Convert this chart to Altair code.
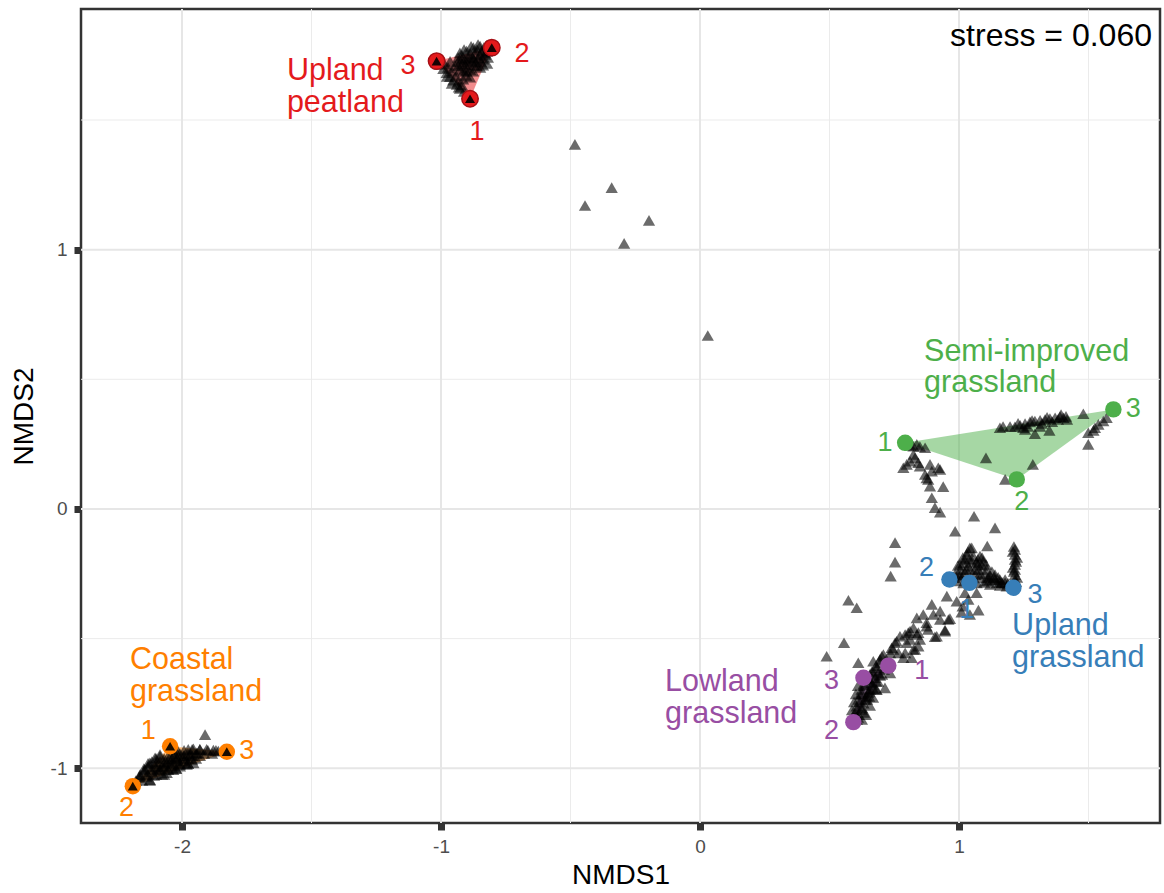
import altair as alt
import pandas as pd

FONT = "Liberation Sans"

# Habitat groups and their colours
groups = ["Upland peatland", "Semi-improved grassland", "Upland grassland",
          "Lowland grassland", "Coastal grassland"]
colours = ["#E41A1C", "#4DAF4A", "#377EB8", "#984EA3", "#FF7F00"]

# Site scores (three sites per habitat)
site_group = ["Upland peatland"] * 3 + ["Semi-improved grassland"] * 3 + \
             ["Upland grassland"] * 3 + ["Lowland grassland"] * 3 + ["Coastal grassland"] * 3
site_id = ["1", "2", "3"] * 5
site_x = [-0.888, -0.804, -1.017,
          0.792, 1.223, 1.596,
          1.040, 0.963, 1.210,
          0.727, 0.592, 0.631,
          -2.046, -2.190, -1.827]
site_y = [1.582, 1.779, 1.727,
          0.255, 0.114, 0.384,
          -0.285, -0.272, -0.304,
          -0.604, -0.822, -0.651,
          -0.915, -1.069, -0.936]

# Where the site numbers are written
num_x = [-0.861, -0.687, -1.127,
         0.714, 1.242, 1.673,
         1.030, 0.875, 1.293,
         0.856, 0.508, 0.508,
         -2.130, -2.214, -1.750]
num_y = [1.452, 1.753, 1.708,
         0.256, 0.025, 0.384,
         -0.388, -0.227, -0.330,
         -0.626, -0.857, -0.664,
         -0.857, -1.152, -0.934]

# Habitat name labels (anchored at the first line)
label_text = ["Upland\npeatland", "Semi-improved\ngrassland", "Upland\ngrassland",
              "Lowland\ngrassland", "Coastal\ngrassland"]
label_x = [-1.595, 0.865, 1.205, -0.135, -2.201]
label_y = [1.687, 0.607, -0.453, -0.669, -0.584]

# Species / sample scores
peat_x = [-1.004, -0.991, -0.978, -0.965, -0.953, -0.939, -0.927,
          -0.927, -0.901, -0.875, -0.849, -0.824, -0.920, -0.895, -0.869, -0.843,
          -0.933, -0.907, -0.881, -0.856, -0.830, -0.914, -0.888, -0.862, -0.837,
          -0.934, -0.919, -0.888, -0.861, -0.834, -0.811, -0.919, -0.896, -0.873, -0.849,
          -0.822, -0.927, -0.900, -0.873, -0.846, -0.819, -0.903, -0.876, -0.849, -0.822,
          -0.988, -0.973, -0.958, -0.942, -0.934, -0.919, -0.911,
          -0.911, -0.884, -0.857, -0.934, -0.907, -0.880, -0.830, -0.903, -0.865, -0.838,
          -0.888, -0.915, -0.946, -0.965, -0.977, -0.958, -0.931]
peat_y = [1.714, 1.698, 1.682, 1.667, 1.653, 1.637, 1.622,
          1.759, 1.766, 1.779, 1.785, 1.788, 1.734, 1.740, 1.753, 1.766,
          1.708, 1.714, 1.727, 1.740, 1.759, 1.688, 1.695, 1.708, 1.734,
          1.741, 1.749, 1.757, 1.772, 1.780, 1.784, 1.718, 1.726, 1.734, 1.749,
          1.764, 1.695, 1.703, 1.711, 1.726, 1.741, 1.672, 1.688, 1.703, 1.718,
          1.718, 1.703, 1.688, 1.672, 1.649, 1.634, 1.610,
          1.772, 1.784, 1.791, 1.726, 1.734, 1.743, 1.753, 1.688, 1.722, 1.711,
          1.665, 1.657, 1.711, 1.726, 1.668, 1.641, 1.626]

mid_x = [-0.483, -0.341, -0.444, -0.197, -0.293, 0.030]
mid_y = [1.406, 1.239, 1.170, 1.113, 1.024, 0.669]

semi_x = [1.158, 1.216, 1.236, 1.255, 1.274, 1.293, 1.313, 1.332, 1.351, 1.371, 1.390, 1.403,
          1.248, 1.293, 1.349, 1.480, 1.499, 1.525, 1.538, 1.519, 1.499, 1.570, 1.557,
          1.104, 1.285, 1.178, 0.869, 0.837, 0.824,
          0.785, 0.811, 0.830, 0.849, 0.888, 0.920, 0.869, 0.881, 0.888, 0.939,
          0.824, 0.843, 0.798, 0.895, 0.895, 0.907, 0.927, 1.058, 0.985, 1.139,
          0.927, 0.875,
          1.197, 1.266, 1.320, 1.359, 1.382, 1.413, 0.849, 0.811,
          1.170, 1.228, 1.282, 1.340, 1.394, 1.417, 1.255, 1.313]
semi_y = [0.313, 0.317, 0.323, 0.329, 0.336, 0.339, 0.342, 0.345, 0.349, 0.352, 0.356, 0.352,
          0.313, 0.290, 0.303, 0.367, 0.294, 0.313, 0.326, 0.303, 0.249, 0.352, 0.339,
          0.197, 0.172, 0.114, 0.236, 0.249, 0.242,
          0.159, 0.184, 0.197, 0.165, 0.172, 0.159, 0.133, 0.114, 0.088, 0.086,
          0.210, 0.178, 0.172, 0.146, 0.043, 0.005, -0.012, -0.028, -0.086, -0.073,
          0.152, 0.120,
          0.318, 0.318, 0.330, 0.337, 0.345, 0.357, 0.241, 0.245,
          0.318, 0.330, 0.341, 0.353, 0.364, 0.345, 0.307, 0.318]

upland_x = [0.753, 0.753, 0.736, 0.573, 0.605, 1.049, 1.109,
            1.004, 1.017, 1.030, 1.042, 1.023, 1.036, 1.055, 0.997,
            1.068, 1.081, 1.094, 1.107, 1.075, 1.062, 1.120, 1.139, 1.158, 1.178,
            1.146, 1.107, 1.081,
            1.216, 1.216, 1.216, 1.216, 1.216, 1.216, 1.216,
            0.991, 1.017, 1.068, 1.120, 1.158, 1.184,
            0.985, 1.004, 1.023, 1.035, 1.012, 1.042, 1.050,
            1.073, 1.089, 1.100, 1.120, 1.062, 1.139, 1.158, 1.178, 1.127, 1.189,
            1.208, 1.224, 1.208, 1.224, 1.216,
            0.996, 1.015, 1.004, 1.027, 1.039, 0.977,
            1.073, 1.089, 1.104, 1.081, 1.112, 1.135, 1.166, 1.151, 1.097, 1.042,
            1.212, 1.220, 1.212, 1.220]
upland_y = [-0.130, -0.205, -0.259, -0.352, -0.381, -0.150, -0.143,
            -0.233, -0.207, -0.175, -0.150, -0.246, -0.221, -0.182, -0.253,
            -0.207, -0.182, -0.201, -0.233, -0.233, -0.253, -0.259, -0.253, -0.272, -0.285,
            -0.285, -0.278, -0.265,
            -0.156, -0.175, -0.195, -0.214, -0.233, -0.253, -0.272,
            -0.278, -0.285, -0.285, -0.291, -0.295, -0.298,
            -0.252, -0.214, -0.194, -0.164, -0.264, -0.233, -0.202,
            -0.194, -0.218, -0.252, -0.272, -0.233, -0.272, -0.283, -0.272, -0.241, -0.287,
            -0.164, -0.187, -0.226, -0.264, -0.291,
            -0.218, -0.187, -0.256, -0.233, -0.194, -0.264,
            -0.214, -0.187, -0.214, -0.249, -0.264, -0.264, -0.283, -0.264, -0.283, -0.283,
            -0.145, -0.202, -0.241, -0.280]

slope_x = [0.953, 0.991, 1.014, 1.023, 1.068, 1.075, 1.010, 0.895, 0.927, 0.965,
           0.862, 0.837, 0.901, 0.946, 0.907, 0.875, 0.824, 0.804, 0.772, 0.759,
           0.837, 0.798, 0.746, 0.792, 0.708, 0.824, 0.849,
           1.042, 1.036, 0.959, 0.927, 0.875, 0.811, 0.843, 0.881, 0.914, 0.946,
           0.792, 0.753, 0.740, 0.734, 0.811, 0.766, 0.830, 0.843, 0.817, 0.785,
           0.695, 0.734, 0.714, 0.682, 0.669, 0.611, 0.556, 0.489]
slope_y = [-0.336, -0.356, -0.375, -0.323, -0.323, -0.390, -0.398, -0.368, -0.394, -0.423,
           -0.407, -0.420, -0.407, -0.467, -0.493, -0.452, -0.458, -0.477, -0.491, -0.510,
           -0.484, -0.516, -0.542, -0.555, -0.561, -0.542, -0.503,
           -0.407, -0.349, -0.426, -0.426, -0.439, -0.471, -0.477, -0.465, -0.491, -0.471,
           -0.484, -0.516, -0.535, -0.555, -0.503, -0.555, -0.542, -0.529, -0.574, -0.574,
           -0.580, -0.632, -0.690, -0.696, -0.587, -0.593, -0.516, -0.568]

lowland_x = [0.598, 0.605, 0.611, 0.618, 0.624, 0.631, 0.644, 0.656, 0.669, 0.682, 0.695, 0.702,
             0.631, 0.644, 0.656, 0.663, 0.624, 0.611, 0.650, 0.637, 0.676, 0.688, 0.592, 0.606,
             0.641, 0.656, 0.668, 0.680, 0.687, 0.703, 0.587, 0.595, 0.602, 0.610,
             0.625, 0.645, 0.653, 0.664, 0.610, 0.625,
             0.598, 0.606, 0.618, 0.625, 0.637, 0.649, 0.664, 0.680,
             0.633, 0.653, 0.668, 0.680, 0.695, 0.710]
lowland_y = [-0.786, -0.761, -0.735, -0.715, -0.696, -0.677, -0.657, -0.638, -0.626, -0.612, -0.593, -0.568,
             -0.749, -0.722, -0.696, -0.670, -0.773, -0.793, -0.709, -0.735, -0.651, -0.632, -0.804, -0.812,
             -0.793, -0.758, -0.727, -0.696, -0.665, -0.638, -0.775, -0.744, -0.713, -0.682,
             -0.767, -0.735, -0.704, -0.677, -0.804, -0.812,
             -0.804, -0.773, -0.742, -0.712, -0.681, -0.654, -0.627, -0.604,
             -0.785, -0.723, -0.692, -0.665, -0.642, -0.619]

coast_x = [-2.162, -2.143, -2.124, -2.104, -2.085, -2.078, -2.059, -2.040, -2.020, -1.995,
           -1.969, -1.943, -2.059, -2.034, -2.008, -1.982, -1.956, -1.976, -1.956, -1.931,
           -1.905, -1.879, -1.860, -2.020, -2.098, -2.124, -1.911,
           -2.023, -1.992, -1.961, -1.931, -1.900, -1.869,
           -2.085, -2.054, -2.023, -1.992, -1.961, -1.931,
           -2.116, -2.085, -2.054, -2.023, -1.992, -1.961,
           -2.131, -2.100, -2.069, -2.039, -2.008, -1.977,
           -2.147, -2.116, -2.085, -2.054, -2.023,
           -2.166, -2.139, -2.108, -2.077,
           -2.039, -2.008, -1.977, -1.946, -1.915, -1.884,
           -2.100, -2.069, -2.039, -2.008, -1.977, -1.946,
           -2.131, -2.100, -2.069, -2.039, -2.008, -1.977,
           -2.147, -2.116, -2.085, -2.054, -2.023,
           -2.162, -2.131, -2.100, -2.069,
           -2.178, -2.154, -2.124]
coast_y = [-1.030, -1.005, -0.979, -0.960, -0.947, -0.992, -0.979, -0.966, -0.960, -0.953,
           -0.947, -0.940, -1.017, -1.005, -0.992, -0.985, -0.979, -0.927, -0.925, -0.927,
           -0.927, -0.930, -0.934, -0.927, -1.005, -1.044, -0.870,
           -0.935, -0.931, -0.927, -0.927, -0.931, -0.931,
           -0.954, -0.954, -0.954, -0.951, -0.951, -0.951,
           -0.974, -0.974, -0.974, -0.970, -0.970, -0.966,
           -0.993, -0.993, -0.993, -0.989, -0.985, -0.981,
           -1.012, -1.012, -1.008, -1.005, -1.001,
           -1.035, -1.031, -1.028, -1.024,
           -0.943, -0.943, -0.943, -0.943, -0.943, -0.943,
           -0.962, -0.962, -0.962, -0.962, -0.962, -0.962,
           -0.981, -0.981, -0.981, -0.981, -0.981, -0.981,
           -1.001, -1.001, -1.001, -1.001, -1.001,
           -1.024, -1.024, -1.024, -1.024,
           -1.047, -1.047, -1.047]

# Grid positions
major_x = [-2, -1, 0, 1]
minor_x = [-1.5, -0.5, 0.5, 1.5]
major_y = [-1, 0, 1]
minor_y = [-0.5, 0.5, 1.5]

stress_text = ["stress = 0.060"]
stress_x = [1.745]
stress_y = [1.825]

X_DOMAIN = [-2.390, 1.776]
Y_DOMAIN = [-1.211, 1.928]

sites = pd.DataFrame({"group": site_group, "site": site_id, "x": site_x, "y": site_y,
                      "nx": num_x, "ny": num_y})
poly = pd.concat([sites, sites.groupby("group", as_index=False).first()])
poly["ord"] = list(range(len(sites))) + [100] * len(groups)
labels = pd.DataFrame({"group": groups, "text": label_text, "x": label_x, "y": label_y})
species = pd.DataFrame({
    "x": peat_x + mid_x + semi_x + upland_x + slope_x + lowland_x + coast_x,
    "y": peat_y + mid_y + semi_y + upland_y + slope_y + lowland_y + coast_y,
})
overlay = sites[sites["group"].isin(["Upland peatland", "Coastal grassland"])]

xs = alt.Scale(domain=X_DOMAIN, nice=False, zero=False)
ys = alt.Scale(domain=Y_DOMAIN, nice=False, zero=False)
cs = alt.Scale(domain=groups, range=colours)

# ASCII hyphen for negative tick labels
hyphen = "datum.value < 0 ? '-' + abs(datum.value) : '' + datum.value"

x_axis = alt.Axis(values=major_x, title="NMDS1", grid=False, domain=False,
                  labelExpr=hyphen, labelPadding=7, titlePadding=5)
y_axis = alt.Axis(values=major_y, title="NMDS2", grid=False, domain=False,
                  labelExpr=hyphen, labelPadding=7, titlePadding=12)

X = alt.X("x:Q", scale=xs, axis=x_axis)
Y = alt.Y("y:Q", scale=ys, axis=y_axis)

axes = alt.Chart(sites).mark_point(opacity=0).encode(x=X, y=Y)

grid_minor_v = alt.Chart(pd.DataFrame({"x": minor_x})).mark_rule(
    color="#EBEBEB", strokeWidth=1).encode(x=X)
grid_major_v = alt.Chart(pd.DataFrame({"x": major_x})).mark_rule(
    color="#E6E6E6", strokeWidth=2).encode(x=X)
grid_minor_h = alt.Chart(pd.DataFrame({"y": minor_y})).mark_rule(
    color="#EBEBEB", strokeWidth=1).encode(y=Y)
grid_major_h = alt.Chart(pd.DataFrame({"y": major_y})).mark_rule(
    color="#E6E6E6", strokeWidth=2).encode(y=Y)

hulls = alt.Chart(poly).mark_line(filled=True, fillOpacity=0.5).encode(
    x=X, y=Y,
    fill=alt.Fill("group:N", scale=cs, legend=None),
    detail="group:N",
    order=alt.Order("ord:Q"),
)

points = alt.Chart(species).mark_point(
    shape="triangle-up", filled=True, size=150, color="black", opacity=0.58
).encode(x=X, y=Y)

site_dots = alt.Chart(sites).mark_circle(size=270, opacity=1).encode(
    x=X, y=Y,
    color=alt.Color("group:N", scale=cs, legend=None),
    stroke=alt.value("#A50F15"),
    strokeWidth=alt.condition(alt.datum.group == "Upland peatland",
                              alt.value(1.5), alt.value(0)),
)

site_tris = alt.Chart(overlay).mark_point(
    shape="triangle-up", filled=True, size=100, color="black", opacity=0.9
).encode(x=X, y=Y)

site_nums = alt.Chart(sites).mark_text(
    font=FONT, fontSize=27, align="center", baseline="middle"
).encode(
    x=alt.X("nx:Q", scale=xs, axis=x_axis), y=alt.Y("ny:Q", scale=ys, axis=y_axis),
    text="site:N",
    color=alt.Color("group:N", scale=cs, legend=None),
)

group_labels = alt.Chart(labels).mark_text(
    font=FONT, fontSize=30.5, align="left", baseline="middle", lineBreak="\n", lineHeight=31.5
).encode(
    x=X, y=Y,
    text="text:N",
    color=alt.Color("group:N", scale=cs, legend=None),
)

stress = alt.Chart(pd.DataFrame({"t": stress_text, "x": stress_x, "y": stress_y})).mark_text(
    font=FONT, fontSize=32, align="right", baseline="middle", color="black"
).encode(x=X, y=Y, text="t:N")

chart = alt.layer(
    axes, grid_minor_v, grid_minor_h, grid_major_v, grid_major_h,
    hulls, points, site_dots, site_tris, site_nums, group_labels, stress,
).properties(
    width=1079, height=814,
    background="white",
    autosize=alt.AutoSizeParams(type="none"),
    padding={"left": 81, "top": 9, "right": 4, "bottom": 70},
).configure_view(
    stroke="#333333", strokeWidth=2.5
).configure_axis(
    labelFont=FONT, labelFontSize=19, labelColor="#4D4D4D",
    tickSize=7, tickWidth=7, tickColor="#333333",
    titleFont=FONT, titleFontSize=28, titleFontWeight="normal", titleColor="black",
)

chart.save("out.html", embed_options={"renderer": "svg", "actions": False})
